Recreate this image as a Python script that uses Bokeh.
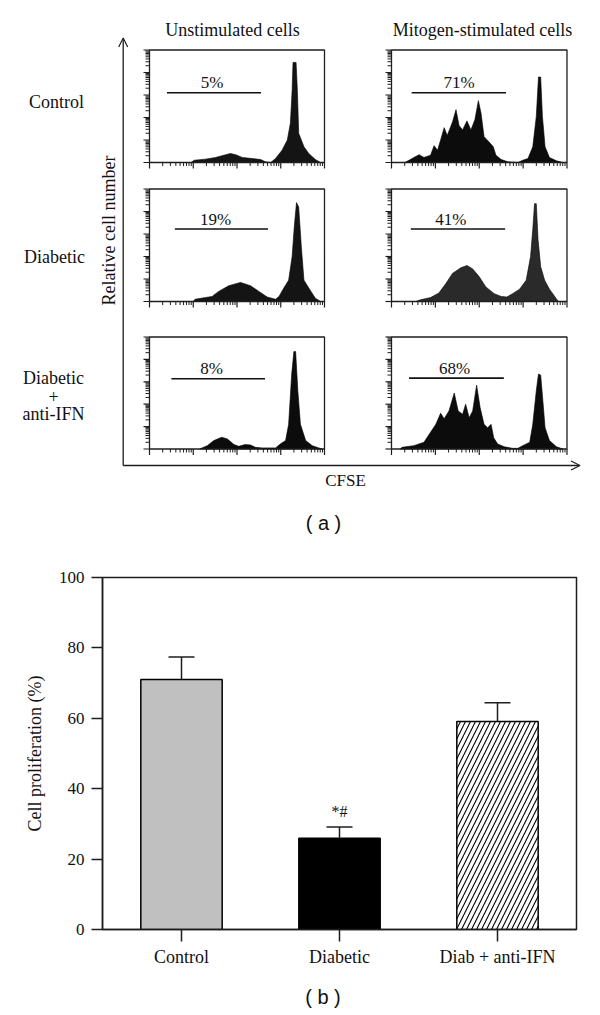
import math
from bokeh.plotting import figure
from bokeh.layouts import column
from bokeh.models import (Range1d, Arrow, OpenHead, ColumnDataSource, FactorRange,
                          Whisker, TeeHead)
from bokeh.core.properties import value
from bokeh.embed import file_html
from bokeh.resources import INLINE

SERIF = "Liberation Serif"
SANS = "Liberation Sans"
INK = "#1e1e1e"
TXT = "#111111"

# ---------------- data: panel (a), CFSE histograms (x = log10 CFSE, y = % of panel max)
col_titles = ["Unstimulated cells", "Mitogen-stimulated cells"]
row_labels = [["Control"], ["Diabetic"], ["Diabetic", "+", "anti-IFN"]]

ctrl_unstim_x = [0.95, 1.02, 1.28, 1.51, 1.70, 1.85, 1.97, 2.12, 2.35, 2.54, 2.65, 2.77, 2.88,
                 3.03, 3.15, 3.22, 3.26, 3.28, 3.35, 3.38, 3.41, 3.53, 3.64, 3.79, 3.91]
ctrl_unstim_y = [0, 2, 3, 4.5, 6.5, 8, 7, 4.5, 3.5, 2.7, 0.6, 0, 3.5,
                 11, 20, 35, 64, 89, 89, 64, 26, 14, 8, 2.7, 0]

diab_unstim_x = [1.00, 1.04, 1.43, 1.58, 1.81, 2.08, 2.31, 2.50, 2.69, 2.88, 2.96, 3.07, 3.18,
                 3.26, 3.31, 3.36, 3.41, 3.47, 3.53, 3.64, 3.79, 3.91]
diab_unstim_y = [0, 2, 4.5, 9, 14, 17, 14, 9, 4, 2, 4.5, 12, 19,
                 40, 67, 88, 84, 49, 19, 12, 3, 0]

ifn_unstim_x = [1.15, 1.20, 1.32, 1.47, 1.65, 1.78, 1.93, 2.04, 2.19, 2.31, 2.42, 2.58, 2.88,
                2.99, 3.11, 3.18, 3.25, 3.30, 3.34, 3.39, 3.45, 3.57, 3.72, 3.87, 3.95]
ifn_unstim_y = [0, 1, 3, 7.5, 10.5, 9, 4, 2.4, 4, 3.6, 1.5, 1, 1,
                4.5, 7.5, 22, 67, 87, 87, 52, 22, 7.5, 3, 1, 0]

ctrl_mito_x = [0.30, 0.40, 0.51, 0.63, 0.74, 0.89, 0.97, 1.05, 1.12, 1.20, 1.27, 1.39, 1.47,
               1.54, 1.62, 1.72, 1.81, 1.90, 1.98, 2.04, 2.11, 2.23, 2.32, 2.38, 2.50, 2.65,
               2.88, 2.99, 3.11, 3.22, 3.30, 3.35, 3.40, 3.44, 3.50, 3.60, 3.76, 3.91]
ctrl_mito_y = [0, 2, 4.5, 7, 4.5, 6.5, 15, 11, 20, 31, 24, 36, 47,
               33, 29, 37, 29, 38, 55, 44, 23, 18, 14, 6.5, 2.7, 0.6,
               0, 2, 3.5, 14, 41, 76, 76, 41, 14, 4.5, 1.5, 0]

diab_mito_x = [0.55, 0.66, 0.89, 1.08, 1.24, 1.39, 1.58, 1.72, 1.85, 2.00, 2.15, 2.34, 2.50,
               2.63, 2.76, 2.92, 3.07, 3.17, 3.22, 3.26, 3.30, 3.34, 3.40, 3.49, 3.60, 3.72, 3.80]
diab_mito_y = [0, 1.5, 3.5, 7.5, 16, 25, 30, 32, 29, 22, 13, 7, 4.5,
               4, 7, 11, 19, 40, 64, 87, 87, 55, 31, 19, 11, 4.5, 0]

ifn_mito_x = [0.20, 0.24, 0.51, 0.74, 0.89, 1.01, 1.12, 1.20, 1.31, 1.43, 1.52, 1.62, 1.69,
              1.77, 1.85, 1.94, 2.02, 2.11, 2.19, 2.27, 2.33, 2.42, 2.57, 2.76, 2.88, 2.99,
              3.15, 3.22, 3.30, 3.35, 3.40, 3.45, 3.50, 3.60, 3.76, 3.91]
ifn_mito_y = [0, 1.5, 3, 6, 15, 22, 32, 27, 34, 50, 34, 31, 40,
              28, 34, 57, 37, 22, 19, 22, 10, 4.5, 2, 0.6, 0.6, 3,
              6, 22, 52, 67, 66, 43, 19, 7.5, 2, 0]

hist_x = [[ctrl_unstim_x, ctrl_mito_x], [diab_unstim_x, diab_mito_x], [ifn_unstim_x, ifn_mito_x]]
hist_y = [[ctrl_unstim_y, ctrl_mito_y], [diab_unstim_y, diab_mito_y], [ifn_unstim_y, ifn_mito_y]]

gate_pct = [["5%", "71%"], ["19%", "41%"], ["8%", "68%"]]
gate_start = [[0.40, 0.46], [0.58, 0.44], [0.50, 0.40]]
gate_end = [[2.55, 2.61], [2.71, 2.59], [2.64, 2.56]]
gate_level = [[62, 62], [64.5, 64.5], [62.7, 63.3]]
gate_text_x = [[1.43, 1.54], [1.51, 1.35], [1.42, 1.44]]

# ---------------- data: panel (b)
groups = ["Control", "Diabetic", "Diab + anti-IFN"]
prolif_mean = [71.0, 25.9, 59.1]
prolif_sem = [6.4, 3.2, 5.3]
signif = ["", "*#", ""]
y_ticks = [0, 20, 40, 60, 80, 100]

# ---------------- layout constants (page pixel space)
W = 600
A_BOT = 545
B_BOT = 975
PAGE_H = 1015
col_px = [(149.0, 324.0), (391.0, 566.5)]
row_px = [(49.5, 162.0), (188.5, 301.0), (336.5, 448.5)]
hist_fill = [["#141414", "#0c0c0c"], ["#141414", "#2a2a2a"], ["#0c0c0c", "#0c0c0c"]]


def fix(size):
    # the renderer sets text about this many px below the requested alphabetic baseline
    return 0.382 * size


def no_align(fig):
    if "frame_align" in fig.properties():
        fig.frame_align = False


fa = figure(width=W, height=A_BOT, x_range=Range1d(0, W), y_range=Range1d(A_BOT, 0),
            output_backend="svg", toolbar_location=None, min_border=0,
            x_axis_type=None, y_axis_type=None)
fa.grid.visible = False
fa.outline_line_color = None
no_align(fa)

decade_major = [0, 1, 2, 3, 4]
decade_minor = [d + math.log10(k) for d in range(4) for k in range(2, 10)]
ym = [d * 20 for d in range(6)]
yminor = [d * 20 + 20 * math.log10(k) for d in range(5) for k in range(2, 10)]

for r in range(3):
    for c in range(2):
        x0, x1 = col_px[c]
        yt, yb = row_px[r]
        sx = 4.0 / (x1 - x0)
        sy = 100.0 / (yb - yt)
        xn, yn = f"x{r}{c}", f"y{r}{c}"
        fa.extra_x_ranges[xn] = Range1d(start=(0 - x0) * sx, end=(W - x0) * sx)
        fa.extra_y_ranges[yn] = Range1d(start=(yb - A_BOT) * sy, end=(yb - 0) * sy)
        kw = dict(x_range_name=xn, y_range_name=yn)
        fa.patch(hist_x[r][c], hist_y[r][c], fill_color=hist_fill[r][c], line_color="#000000",
                 line_width=0.6, **kw)
        fa.quad(left=[0], right=[4], bottom=[0], top=[100], fill_color=None,
                line_color=INK, line_width=1.3, **kw)
        # bottom (log CFSE) ticks
        fa.ray(x=decade_major, y=[0] * len(decade_major), length=6, length_units="screen",
               angle=-math.pi / 2, line_color=INK, line_width=1.2, **kw)
        fa.ray(x=decade_minor, y=[0] * len(decade_minor), length=3.5, length_units="screen",
               angle=-math.pi / 2, line_color=INK, line_width=1.0, **kw)
        # left ticks
        fa.ray(x=[0] * len(ym), y=ym, length=6, length_units="screen", angle=math.pi,
               line_color=INK, line_width=1.2, **kw)
        fa.ray(x=[0] * len(yminor), y=yminor, length=4, length_units="screen", angle=math.pi,
               line_color=INK, line_width=1.0, **kw)
        # gate bar and percentage
        fa.segment(x0=[gate_start[r][c]], y0=[gate_level[r][c]], x1=[gate_end[r][c]],
                   y1=[gate_level[r][c]], line_color=TXT, line_width=1.6, **kw)
        fa.text(x=[gate_text_x[r][c]], y=[gate_level[r][c] + (3.4 + fix(17)) * sy],
                text=[gate_pct[r][c]], text_align="center", text_baseline="alphabetic",
                text_font=value(SERIF), text_font_size="17px", text_color=TXT, **kw)

# column titles
fa.text(x=[232, 482], y=[36 - fix(18), 36.5 - fix(18)], text=col_titles, text_align="center",
        text_baseline="alphabetic", text_font=value(SERIF), text_font_size="18px",
        text_color=TXT)
# row labels
row_label_x = [56, 54, 53]
row_label_y = [[108.5], [263.5], [384.5, 402.5, 420.7]]
for i, lines in enumerate(row_labels):
    fa.text(x=[row_label_x[i]] * len(lines), y=[v - fix(18) for v in row_label_y[i]],
            text=lines, text_align="center", text_baseline="alphabetic",
            text_font=value(SERIF), text_font_size="18px", text_color=TXT)

# big axes with arrows
fa.add_layout(Arrow(x_start=122.7, y_start=465, x_end=122.7, y_end=37.5,
                    end=OpenHead(size=9, line_width=1.2, line_color=INK),
                    line_width=1.3, line_color=INK))
fa.add_layout(Arrow(x_start=122.7, y_start=465, x_end=579.5, y_end=465,
                    end=OpenHead(size=9, line_width=1.2, line_color=INK),
                    line_width=1.3, line_color=INK))
fa.text(x=[115 - fix(18)], y=[230], text=["Relative cell number"], angle=math.pi / 2,
        text_align="center", text_baseline="alphabetic", text_font=value(SERIF),
        text_font_size="18px", text_color=TXT)
fa.text(x=[345], y=[486.7 - fix(17)], text=["CFSE"], text_align="center",
        text_baseline="alphabetic", text_font=value(SERIF), text_font_size="17px",
        text_color=TXT)
fa.text(x=[323], y=[530.5 - fix(20)], text=["( a )"], text_align="center",
        text_baseline="alphabetic", text_font=value(SANS), text_font_size="20px",
        text_color=TXT)

# ---------------- panel (b): bar chart
upper = [m + s for m, s in zip(prolif_mean, prolif_sem)]
src = ColumnDataSource(dict(
    g=groups, mean=prolif_mean, upper=upper,
    fill=["#c0c0c0", "#000000", "#ffffff"],
    hatch=[" ", " ", "/"],
    sig=signif,
))

fb = figure(width=W, height=B_BOT - A_BOT, x_range=FactorRange(factors=groups, range_padding=0),
            y_range=Range1d(0, 100), output_backend="svg", toolbar_location=None,
            min_border_left=102, min_border_right=24, min_border_top=32,
            min_border_bottom=B_BOT - 929)
fb.grid.visible = False
fb.outline_line_color = INK
fb.outline_line_width = 1.5
no_align(fb)

fb.vbar(x="g", top="mean", width=0.515, source=src, fill_color="fill", line_color="#000000",
        line_width=1.5, hatch_pattern="hatch", hatch_color="#000000", hatch_scale=10,
        hatch_weight=1.1)
fb.add_layout(Whisker(base="g", upper="upper", lower="mean", source=src, level="annotation",
                      upper_head=TeeHead(size=26, line_width=1.5, line_color=INK),
                      lower_head=None, line_width=1.5, line_color=INK))
fb.text(x="g", y="upper", text="sig", source=src, text_align="center",
        text_baseline="alphabetic", y_offset=-(9 + fix(16)), text_font=value(SERIF),
        text_font_size="16px", text_color=TXT)

fb.yaxis.ticker = y_ticks
fb.yaxis.axis_label = "Cell proliferation (%)"
fb.yaxis.axis_label_text_font = SERIF
fb.yaxis.axis_label_text_font_style = "normal"
fb.yaxis.axis_label_text_font_size = "18px"
fb.yaxis.axis_label_text_color = TXT
fb.yaxis.axis_label_standoff = 11
fb.yaxis.major_label_standoff = 7
for ax in (fb.xaxis, fb.yaxis):
    ax.major_label_text_font = SERIF
    ax.major_label_text_color = TXT
    ax.major_tick_in = 0
    ax.minor_tick_in = 0
    ax.minor_tick_out = 0
    ax.axis_line_width = 1.5
    ax.axis_line_color = INK
    ax.major_tick_line_width = 1.5
    ax.major_tick_line_color = INK
fb.yaxis.major_label_text_font_size = "17px"
fb.xaxis.major_label_text_font_size = "18px"
fb.yaxis.major_tick_out = 11
fb.xaxis.major_tick_out = 12
fb.xaxis.major_label_standoff = 5

# ---------------- caption strip "( b )"
fc = figure(width=W, height=PAGE_H - B_BOT, x_range=Range1d(0, W),
            y_range=Range1d(PAGE_H, B_BOT), output_backend="svg", toolbar_location=None,
            min_border=0, x_axis_type=None, y_axis_type=None)
fc.grid.visible = False
fc.outline_line_color = None
no_align(fc)
fc.text(x=[322.5], y=[1004 - fix(20)], text=["( b )"], text_align="center",
        text_baseline="alphabetic", text_font=value(SANS), text_font_size="20px",
        text_color=TXT)

layout = column(fa, fb, fc, spacing=0)
open("out.html", "w").write(file_html(layout, INLINE))
